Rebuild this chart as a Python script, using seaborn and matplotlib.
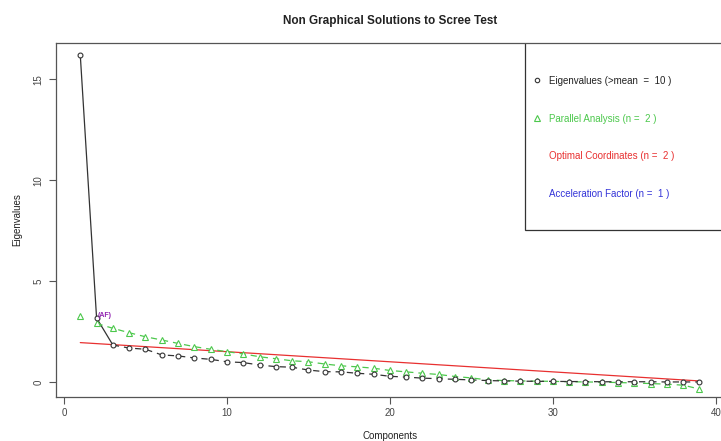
import seaborn as sns
import matplotlib.pyplot as plt
from matplotlib.lines import Line2D
from matplotlib.patches import Rectangle

# values
components = list(range(1, 40))
eigenvalues = [16.2, 3.17, 1.83, 1.68, 1.62, 1.34, 1.29, 1.19, 1.12, 1.00,
               0.96, 0.84, 0.76, 0.73, 0.59, 0.51, 0.50, 0.43, 0.38, 0.28,
               0.24, 0.19, 0.16, 0.13, 0.10, 0.07, 0.05, 0.04, 0.03, 0.03,
               0.02, 0.02, 0.01, 0.01, 0.01, 0.01, 0.00, 0.00, 0.00]
parallel = [3.27, 2.90, 2.66, 2.44, 2.24, 2.08, 1.91, 1.75, 1.62, 1.50,
            1.39, 1.25, 1.15, 1.05, 1.00, 0.89, 0.80, 0.75, 0.68, 0.57,
            0.50, 0.43, 0.37, 0.27, 0.20, 0.10, 0.07, 0.05, 0.04, 0.03,
            0.01, 0.00, -0.01, -0.03, -0.05, -0.08, -0.11, -0.16, -0.35]
oc_x = [1, 39]
oc_y = [1.95, 0.05]
af_x = [1, 2, 3]
af_y = eigenvalues[:3]

legend_labels = ["Eigenvalues (>mean  =  10 )", "Parallel Analysis (n =  2 )",
                 "Optimal Coordinates (n =  2 )", "Acceleration Factor (n =  1 )"]

sns.set_style("white")
plt.rcParams['font.family'] = ['Liberation Sans', 'DejaVu Sans']

green = "#4cc84c"
red = "#e83030"
blue = "#3434d8"
black = "#333333"

fig = plt.figure(figsize=(7.21, 4.41), dpi=100)
ax = fig.add_axes([0.077, 0.1005, 0.927, 0.802])

# optimal coordinates line
sns.lineplot(x=oc_x, y=oc_y, ax=ax, color=red, linewidth=0.9, zorder=2)
# acceleration factor: solid segment over the first points
sns.lineplot(x=af_x, y=af_y, ax=ax, color=black, linewidth=0.9, zorder=2)
# parallel analysis
sns.lineplot(x=components[1:], y=parallel[1:], ax=ax, color=green, linewidth=0.9,
             linestyle=(0, (5, 4)), zorder=3)
ax.plot(components, parallel, linestyle="none", marker="^", markersize=4.5,
        markerfacecolor="white", markeredgecolor=green, markeredgewidth=0.8, zorder=4)
# eigenvalues
sns.lineplot(x=components[2:], y=eigenvalues[2:], ax=ax, color=black, linewidth=0.9,
             linestyle=(0, (5, 4)), zorder=3)
ax.plot(components, eigenvalues, linestyle="none", marker="o", markersize=3.5,
        markerfacecolor="white", markeredgecolor=black, markeredgewidth=0.8, zorder=5)

ax.text(components[1] + 0.05, eigenvalues[1] + 0.05, "(AF)", color="#9020b0",
        fontsize=5, fontweight="bold", zorder=6)

ax.set_xlim(-0.52, 40.5)
ax.set_ylim(-0.73, 16.8)
ax.set_xticks([0, 10, 20, 30, 40])
ax.set_yticks([0, 5, 10, 15])
for s in ax.spines.values():
    s.set_visible(True)
    s.set_color("#555555")
    s.set_linewidth(0.9)
    s.set_zorder(10)
ax.tick_params(direction="out", length=5, width=0.8, color="#555555",
               labelsize=7, labelcolor="#444444", left=True, bottom=True)
for lab in ax.get_yticklabels():
    lab.set_rotation(90)
    lab.set_va("center")

ax.set_xlabel("Components", fontsize=7, color="#222222", labelpad=9)
ax.set_ylabel("Eigenvalues", fontsize=7, color="#222222", labelpad=8)
ax.set_title("Non Graphical Solutions to Scree Test", fontsize=8.5,
             fontweight="bold", color="#222222", pad=14)

# legend box
ax.add_patch(Rectangle((0.702, 0.471), 0.4, 0.6, transform=ax.transAxes,
                       facecolor="white", edgecolor=black, linewidth=0.9,
                       zorder=7, clip_on=True))
handles = [
    Line2D([], [], linestyle="none", marker="o", markersize=3.2, markerfacecolor="white",
           markeredgecolor=black, markeredgewidth=0.8),
    Line2D([], [], linestyle="none", marker="^", markersize=4, markerfacecolor="white",
           markeredgecolor=green, markeredgewidth=0.8),
    Line2D([], [], linestyle="none"),
    Line2D([], [], linestyle="none"),
]
leg = ax.legend(handles, legend_labels, loc="upper left",
                bbox_to_anchor=(0.713, 0.907), fontsize=7, frameon=False,
                borderaxespad=0, borderpad=0, labelspacing=2.85,
                handlelength=1.0, handletextpad=0.7)
leg.set_zorder(8)
for t, c in zip(leg.get_texts(), ["#222222", green, red, blue]):
    t.set_color(c)

fig.savefig("out.png", dpi=100)
